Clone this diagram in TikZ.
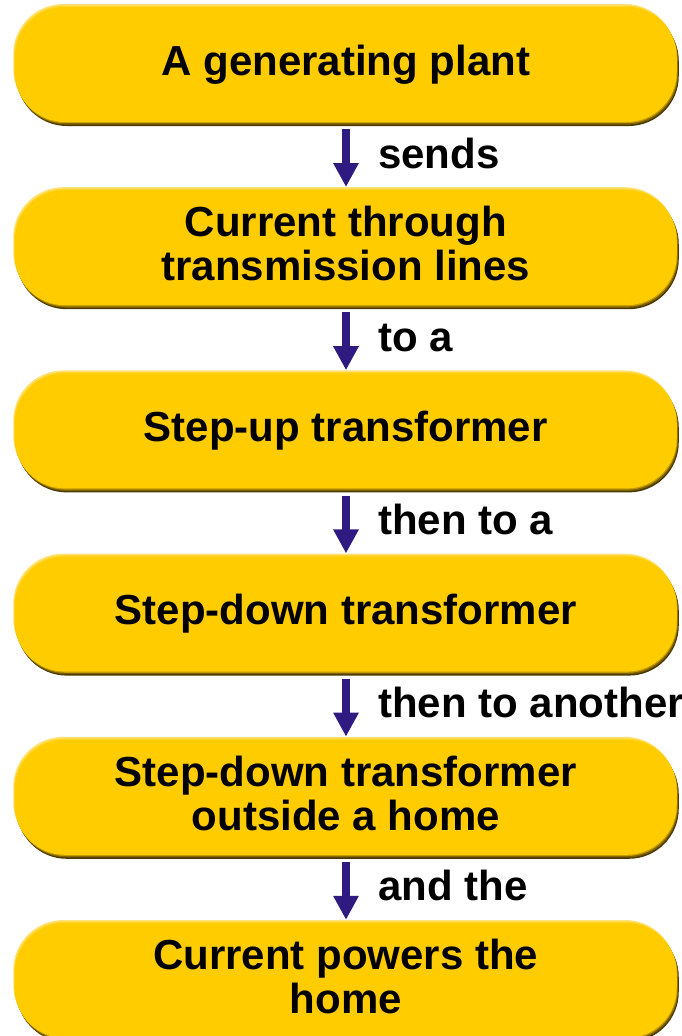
\documentclass[tikz,border=0pt]{standalone}
\usepackage{fontspec}
\setmainfont{Liberation Sans}
\usetikzlibrary{arrows.meta}
\definecolor{gold}{HTML}{FFCC00}
\definecolor{goldlight}{HTML}{FFE27A}
\definecolor{goldhl}{HTML}{FFD630}
\definecolor{shadeA}{HTML}{4A3800}
\definecolor{shadeB}{HTML}{7D6100}
\definecolor{shadeC}{HTML}{C39B00}
\definecolor{arrowblue}{RGB}{46,26,128}
\newcommand{\lowstrut}{\rule[-8pt]{0pt}{8pt}}
\begin{document}
\begin{tikzpicture}[x=1pt,y=-1pt,
  pill/.style={rectangle, rounded corners=50pt, minimum width=662pt, minimum height=115pt,
    inner sep=0pt, align=center, fill=gold, text=black,
    font=\fontsize{42}{44}\selectfont\bfseries,
    preaction={fill=goldlight, transform canvas={xshift=-1.5pt,yshift=3pt}},
    preaction={fill=goldhl, transform canvas={xshift=-0.7pt,yshift=1.5pt}},
    preaction={fill=shadeA, transform canvas={xshift=2pt,yshift=-4pt}},
    preaction={fill=shadeB, transform canvas={xshift=1.3pt,yshift=-2.6pt}},
    preaction={fill=shadeC, transform canvas={xshift=0.6pt,yshift=-1.2pt}}},
  lbl/.style={anchor=mid west, inner sep=0pt, text=black,
    font=\fontsize{42}{44}\selectfont\bfseries},
  arr/.style={draw=arrowblue, line width=8pt, -{Triangle[length=24pt,width=24pt]}, fill=arrowblue}
]
\useasboundingbox (0,0) rectangle (682,1036);
\node[pill] (b1) at (345.75,64.5) {A generating plant};
\node[pill] (b2) at (345.75,247.7) {Current through\\transmission lines\lowstrut};
\node[pill] (b3) at (345.75,430.9) {Step-up transformer};
\node[pill] (b4) at (345.75,614.1) {Step-down transformer};
\node[pill] (b5) at (345.75,797.3) {Step-down transformer\\outside a home\lowstrut};
\node[pill] (b6) at (345.75,980.5) {Current powers the\\home\lowstrut};

\draw[arr] ([xshift=0.25pt,yshift=-7pt]b1.south) -- ([xshift=0.25pt,yshift=3pt]b2.north);
\draw[arr] ([xshift=0.25pt,yshift=-7pt]b2.south) -- ([xshift=0.25pt,yshift=3pt]b3.north);
\draw[arr] ([xshift=0.25pt,yshift=-7pt]b3.south) -- ([xshift=0.25pt,yshift=3pt]b4.north);
\draw[arr] ([xshift=0.25pt,yshift=-7pt]b4.south) -- ([xshift=0.25pt,yshift=3pt]b5.north);
\draw[arr] ([xshift=0.25pt,yshift=-7pt]b5.south) -- ([xshift=0.25pt,yshift=3pt]b6.north);

\node[lbl] (l1) at (378,165.5) {sends};
\node[lbl] (l2) at (378,348.7) {to a};
\node[lbl] (l3) at (378,531.9) {then to a};
\node[lbl] (l4) at (378,715.1) {then to another};
\node[lbl] (l5) at (378,898.3) {and the};
\end{tikzpicture}
\end{document}
